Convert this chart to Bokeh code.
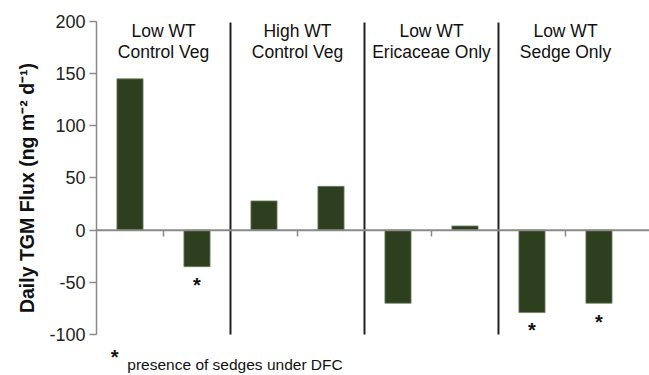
from bokeh.plotting import figure
from bokeh.models import ColumnDataSource, Range1d, Span, FixedTicker
from bokeh.core.properties import value
from bokeh.embed import file_html
from bokeh.resources import INLINE

# ---- data ----
group_line1 = ["Low WT", "High WT", "Low WT", "Low WT"]
group_line2 = ["Control Veg", "Control Veg", "Ericaceae Only", "Sedge Only"]
bar_positions = [0.5, 1.5, 2.5, 3.5, 4.5, 5.5, 6.5, 7.5]
flux_values = [145, -35, 28, 42, -70, 4, -79, -70]
star_positions = [1.5, 6.5, 7.5]
star_y = [-53, -96, -88]
y_ticks = [-100, -50, 0, 50, 100, 150, 200]
footnote = "presence of sedges under DFC"
y_label = "Daily TGM Flux (ng m\u207b\u00b2 d\u207b\u00b9)"

p = figure(width=649, height=375, output_backend="svg", toolbar_location=None,
           x_range=Range1d(0, 8.254), y_range=Range1d(-139.3, 220.1),
           min_border_left=96, min_border_right=0, min_border_top=0,
           min_border_bottom=0)
p.outline_line_color = None
p.grid.visible = False
p.xaxis.visible = False
p.background_fill_color = "white"
p.border_fill_color = "white"

yax = p.yaxis[0]
yax.ticker = FixedTicker(ticks=y_ticks)
yax.bounds = (-100, 200)
yax.major_label_overrides = {t: str(t) for t in y_ticks}
yax.axis_line_color = "#8a8a8a"
yax.axis_line_width = 1.5
yax.major_tick_line_color = "#8a8a8a"
yax.major_tick_line_width = 1.5
yax.major_tick_out = 7
yax.major_tick_in = 0
yax.minor_tick_line_color = None
yax.major_label_text_font = "Liberation Sans"
yax.major_label_text_font_size = "18px"
yax.major_label_text_color = "#222222"
yax.major_label_standoff = 4
yax.axis_label = y_label
yax.axis_label_text_font = "Liberation Sans"
yax.axis_label_text_font_style = "bold"
yax.axis_label_text_font_size = "19.5px"
yax.axis_label_text_color = "#111111"
yax.axis_label_standoff = 8

# bars
src = ColumnDataSource(dict(x=bar_positions, top=flux_values))
p.vbar(x="x", top="top", bottom=0, width=0.39, source=src,
       fill_color="#2d3f1e", line_color="#6f8060", line_width=0.8)

# zero line
p.add_layout(Span(location=0, dimension="width", line_color="#8a8a8a", line_width=2))

# tick marks at group centres
centers = [1, 3, 5, 7]
p.segment(x0=centers, y0=[0]*4, x1=centers, y1=[-6]*4, line_color="#8a8a8a", line_width=1.5)

# group dividers
dividers = [2, 4, 6]
p.segment(x0=dividers, y0=[-100]*3, x1=dividers, y1=[199]*3, line_color="#222222", line_width=2)

# group headers
p.text(x=centers, y=[191]*4, text=group_line1, text_align="center", text_baseline="middle",
       text_font=value("Liberation Sans"), text_font_size="17.5px", text_color="#111111")
p.text(x=centers, y=[171]*4, text=group_line2, text_align="center", text_baseline="middle",
       text_font=value("Liberation Sans"), text_font_size="17.5px", text_color="#111111")

# asterisks
p.text(x=star_positions, y=star_y, text=["*"]*len(star_positions), text_align="center",
       text_baseline="middle", text_font=value("Liberation Sans"), text_font_size="20px",
       text_color="#111111", text_font_style="bold")

# footnote
p.text(x=[0.27], y=[-122], text=["*"], text_align="center", text_baseline="middle",
       text_font=value("Liberation Sans"), text_font_size="20px", text_font_style="bold",
       text_color="#111111")
p.text(x=[0.46], y=[-128.5], text=[footnote], text_align="left", text_baseline="alphabetic",
       text_font=value("Liberation Sans"), text_font_size="15.5px", text_color="#111111")

open("out.html", "w").write(file_html(p, INLINE))
